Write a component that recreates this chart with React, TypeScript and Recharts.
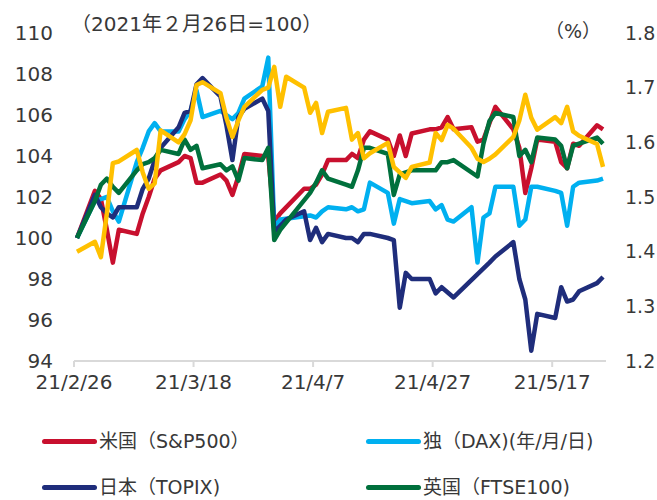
import React from "react";
import { ComposedChart, Line, XAxis, YAxis } from "recharts";

const dates = [
  "2/26", "3/1", "3/2", "3/3", "3/4", "3/5", "3/8", "3/9", "3/10", "3/11",
  "3/12", "3/15", "3/16", "3/17", "3/18", "3/19", "3/22", "3/23", "3/24", "3/25",
  "3/26", "3/29", "3/30", "3/31", "4/1", "4/2", "4/5", "4/6", "4/7", "4/8",
  "4/9", "4/12", "4/13", "4/14", "4/15", "4/16", "4/19", "4/20", "4/21", "4/22",
  "4/23", "4/26", "4/27", "4/28", "4/29", "4/30", "5/3", "5/4", "5/5", "5/6",
  "5/7", "5/10", "5/11", "5/12", "5/13", "5/14", "5/17", "5/18", "5/19", "5/20",
  "5/21", "5/24", "5/25",
];

const usSP500 = [
  100, 102.3, 101.9, 100.4, 98.8, 100.4, 100.2, 101.2, 102.0, 102.9,
  103.3, 103.7, 104.0, 103.9, 102.7, 102.7, 103.1, 102.8, 102.1, 103.0,
  104.1, 104.0, 104.0, 100.8, 101.2, null, 102.4, 102.4, 102.6, 103.1,
  103.8, 103.8, 104.1, 103.9, 104.8, 105.2, 104.8, 104.0, 105.0, 104.0,
  105.1, 105.3, 105.3, 105.4, 105.9, 105.3, 105.4, 104.7, 104.8, 105.6,
  106.4, 105.3, 104.4, 102.2, 103.4, 104.8, 104.7, 103.7, 103.4, 104.6,
  104.5, 105.5, 105.3,
];

const deDAX = [
  100, 101.8, 101.9, 102.0, 101.3, 100.8, 103.7, 104.4, 105.2, 105.6,
  105.2, 105.2, 105.8, 106.2, 107.2, 105.9, 106.2, 106.0, 105.8, 106.1,
  106.8, 107.4, 108.8, 100.5, 100.9, null, null, 101.1, 101.0, 101.3,
  101.5, 101.4, 101.5, 101.3, 101.4, 102.7, 102.2, 100.7, 101.9, 101.8,
  101.7, 101.8, 101.4, 101.6, 100.9, 100.8, 101.5, 98.8, 101.0, 101.2,
  102.5, 102.5, 100.6, 100.9, 102.5, 102.5, 102.3, 102.2, 100.6, 102.5,
  102.7, 102.8, 102.9,
];

const jpTOPIX = [
  100, 102.1, 101.5, 101.2, 101.0, 101.5, 101.5, 102.4, 102.9, 103.8,
  104.4, 105.4, 106.1, 106.2, 107.5, 107.8, 106.9, 105.5, 103.8, 105.9,
  106.3, 106.8, 106.2, 100.3, 100.6, 100.9, 101.3, 99.9, 100.5, 99.8,
  100.2, 100.0, 100.0, 99.8, 100.2, 100.2, 100.0, 99.9, 96.6, 98.3,
  98.0, 98.0, 97.3, 97.6, null, 97.1, null, null, null, 98.8,
  99.1, 99.8, 98.0, 97.0, 94.5, 96.3, 96.1, 97.6, 96.9, 97.0,
  97.4, 97.8, 98.1,
];

const ukFTSE100 = [
  100, 101.8, 102.6, 102.9, 102.5, 102.2, 103.3, 103.6, 103.7, 103.9,
  104.3, 104.1, 104.8, 104.3, 104.5, 103.4, 103.6, 103.3, 103.5, 102.8,
  103.9, 103.8, 104.4, 99.9, 100.4, null, null, 102.2, 102.7, 103.3,
  102.9, 102.6, 102.5, 103.3, 104.4, 104.4, 104.1, 102.1, 103.1, 103.2,
  103.3, 103.3, 103.3, 103.7, 103.7, 103.8, null, 103.0, 104.6, 105.7,
  106.1, 105.9, 104.0, 104.3, 103.7, 104.9, 104.8, 104.5, 103.4, 104.5,
  104.6, 104.9, 104.6,
];

// right axis (%)
const usYield = [
  1.40, 1.418, 1.39, 1.47, 1.562, 1.565, 1.586, 1.545, 1.515, 1.525,
  1.622, 1.60, 1.615, 1.64, 1.705, 1.71, 1.69, 1.645, 1.61, 1.64,
  1.665, 1.696, 1.70, 1.738, 1.665, 1.72, 1.70, 1.654, 1.672, 1.617,
  1.656, 1.663, 1.605, 1.617, 1.571, 1.58, 1.599, 1.555, 1.545, 1.535,
  1.555, 1.563, 1.617, 1.604, 1.632, 1.625, 1.59, 1.57, 1.564, 1.57,
  1.578, 1.61, 1.64, 1.687, 1.645, 1.623, 1.646, 1.635, 1.665, 1.62,
  1.612, 1.597, 1.555,
];

const leftTicks = [94, 96, 98, 100, 102, 104, 106, 108, 110];
const rightTicks = [1.2, 1.3, 1.4, 1.5, 1.6, 1.7, 1.8];
const xTickDates = ["2/26", "3/18", "4/7", "4/27", "5/17"];
const xTickLabels = ["21/2/26", "21/3/18", "21/4/7", "21/4/27", "21/5/17"];

const toOffset = (md: string) => {
  const [m, d] = md.split("/").map(Number);
  return (Date.UTC(2021, m - 1, d) - Date.UTC(2021, 1, 26)) / 86400000;
};

const rows = dates.map((md, i) => ({
  d: toOffset(md),
  us: usSP500[i],
  de: deDAX[i],
  jp: jpTOPIX[i],
  uk: ukFTSE100[i],
  y: usYield[i],
}));

const xTicks = xTickDates.map((md) => toOffset(md) - 0.5);
const lastOffset = toOffset(dates[dates.length - 1]);

const FONT = '"DejaVu Sans", "Noto Sans CJK JP", sans-serif';
const TEXT = "#383838";

const COLORS = {
  us: "#c8102e",
  de: "#00b0f0",
  jp: "#1f2d7b",
  uk: "#00703c",
  y: "#ffc000",
};

const legendItems = [
  { label: "米国（S&P500）", color: COLORS.us, left: 42, top: 430 },
  { label: "独（DAX)(年/月/日)", color: COLORS.de, left: 366, top: 430 },
  { label: "日本（TOPIX)", color: COLORS.jp, left: 42, top: 476 },
  { label: "英国（FTSE100)", color: COLORS.uk, left: 366, top: 476 },
];

export default function App() {
  return (
    <div
      style={{
        position: "absolute",
        left: 0,
        top: 0,
        width: 657,
        height: 500,
        background: "#ffffff",
        fontFamily: FONT,
        color: TEXT,
        overflow: "hidden",
      }}
    >
      <ComposedChart
        width={657}
        height={500}
        data={rows}
        margin={{ top: 33, right: 0, left: 0, bottom: 109 }}
      >
        <XAxis
          dataKey="d"
          type="number"
          domain={[-0.5, lastOffset + 0.5]}
          ticks={xTicks}
          tickFormatter={(v: number) => {
            const i = xTicks.findIndex((t) => Math.abs(t - v) < 0.01);
            return i >= 0 ? xTickLabels[i] : "";
          }}
          interval={0}
          height={30}
          axisLine={{ stroke: "#d9d9d9", strokeWidth: 2 }}
          tickLine={{ stroke: "#d9d9d9", strokeWidth: 2 }}
          tickSize={6}
          tickMargin={8}
          tick={{ fill: TEXT, fontSize: 20, fontFamily: FONT }}
          allowDataOverflow
        />
        <YAxis
          yAxisId="l"
          orientation="left"
          domain={[94, 110]}
          ticks={leftTicks}
          interval={0}
          width={74}
          axisLine={false}
          tickLine={false}
          tickMargin={15}
          tick={{ fill: TEXT, fontSize: 20, fontFamily: FONT }}
          allowDataOverflow
        />
        <YAxis
          yAxisId="r"
          orientation="right"
          domain={[1.2, 1.8]}
          ticks={rightTicks}
          interval={0}
          width={51}
          axisLine={false}
          tickLine={false}
          tickMargin={13}
          tickFormatter={(v: number) => v.toFixed(1)}
          tick={{ fill: TEXT, fontSize: 19, fontFamily: FONT, textAnchor: "start" }}
          allowDataOverflow
        />
        <Line yAxisId="l" dataKey="us" stroke={COLORS.us} strokeWidth={4.5} dot={false} connectNulls isAnimationActive={false} strokeLinejoin="round" />
        <Line yAxisId="l" dataKey="de" stroke={COLORS.de} strokeWidth={4.5} dot={false} connectNulls isAnimationActive={false} strokeLinejoin="round" />
        <Line yAxisId="l" dataKey="jp" stroke={COLORS.jp} strokeWidth={4.5} dot={false} connectNulls isAnimationActive={false} strokeLinejoin="round" />
        <Line yAxisId="l" dataKey="uk" stroke={COLORS.uk} strokeWidth={4.5} dot={false} connectNulls isAnimationActive={false} strokeLinejoin="round" />
        <Line yAxisId="r" dataKey="y" stroke={COLORS.y} strokeWidth={4.5} dot={false} connectNulls isAnimationActive={false} strokeLinejoin="round" />
      </ComposedChart>

      <div
        style={{
          position: "absolute",
          left: 71,
          top: 10,
          fontSize: 20,
          whiteSpace: "nowrap",
          lineHeight: "28px",
        }}
      >
        （2021年２月26日=100）
      </div>
      <div
        style={{
          position: "absolute",
          left: 545,
          top: 17,
          fontSize: 19,
          whiteSpace: "nowrap",
          lineHeight: "28px",
        }}
      >
        （%）
      </div>

      {legendItems.map((it) => (
        <div
          key={it.label}
          style={{
            position: "absolute",
            left: it.left,
            top: it.top,
            height: 22,
            display: "flex",
            alignItems: "center",
            whiteSpace: "nowrap",
            fontSize: 19,
            lineHeight: "22px",
          }}
        >
          <span
            style={{
              display: "inline-block",
              width: 55,
              height: 5,
              borderRadius: 3,
              background: it.color,
              marginRight: 2,
            }}
          />
          <span>{it.label}</span>
        </div>
      ))}
    </div>
  );
}
